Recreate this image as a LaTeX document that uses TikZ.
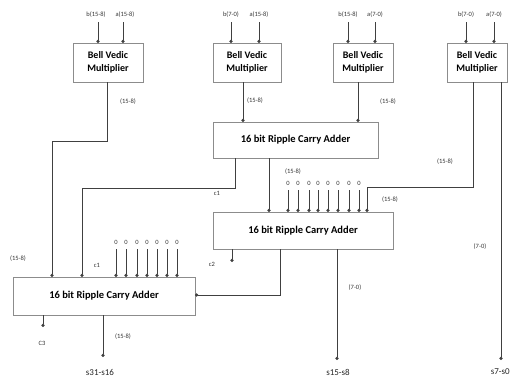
\documentclass[tikz,border=0pt]{standalone}
\usepackage{fontspec}
\setmainfont{Carlito}
\usetikzlibrary{arrows.meta}
\begin{document}
\begin{tikzpicture}[x=1pt,y=-1pt,
  box/.style={draw=black!45,line width=0.8pt,fill=white,inner sep=0pt,font=\fontsize{10}{13}\selectfont\bfseries,align=center},
  abox/.style={box,font=\fontsize{10.5}{13}\selectfont\bfseries},
  conn/.style={draw=black!75,line width=0.9pt,-{Circle[length=3.2pt]}},
  wire/.style={draw=black!75,line width=0.9pt},
  lbl/.style={font=\fontsize{6.5}{7}\selectfont,inner sep=0pt,text=black!80},
  olbl/.style={font=\fontsize{9}{10}\selectfont,inner sep=0pt,text=black!85}]
\useasboundingbox (0,0) rectangle (511,380);
% multipliers
\node[box,minimum width=70pt,minimum height=39pt] (m1) at (108,62.5) {Bell Vedic\\Multiplier};
\node[box,minimum width=68pt,minimum height=39pt] (m2) at (247,62.5) {Bell Vedic\\Multiplier};
\node[box,minimum width=60pt,minimum height=39pt] (m3) at (363,62.5) {Bell Vedic\\Multiplier};
\node[box,minimum width=60pt,minimum height=39pt] (m4) at (477,62.5) {Bell Vedic\\Multiplier};
% adders
\node[abox,minimum width=165pt,minimum height=36pt] (a1) at (295.5,140) {16 bit Ripple Carry Adder};
\node[abox,minimum width=180pt,minimum height=37pt] (a2) at (303,230.5) {16 bit Ripple Carry Adder};
\node[abox,minimum width=182pt,minimum height=38pt] (a3) at (104,296) {16 bit Ripple Carry Adder};
% input labels
\node[lbl] (i1) at (96,15) {b(15-8)};
\node[lbl] (i2) at (125,15) {a(15-8)};
\node[lbl] (i3) at (231,15) {b(7-0)};
\node[lbl] (i4) at (259,15) {a(15-8)};
\node[lbl] (i5) at (348,15) {b(15-8)};
\node[lbl] (i6) at (375,15) {a(7-0)};
\node[lbl] (i7) at (466,15) {b(7-0)};
\node[lbl] (i8) at (494,15) {a(7-0)};
\draw[conn] (98,22) -- (98,43);
\draw[conn] (123,22) -- (123,43);
\draw[conn] (231,22) -- (231,43);
\draw[conn] (259,22) -- (259,43);
\draw[conn] (348,22) -- (348,43);
\draw[conn] (375,22) -- (375,43);
\draw[conn] (466,22) -- (466,43);
\draw[conn] (494,22) -- (494,43);
% multiplier outputs
\draw[conn] (107,82) -- (107,141) -- (52,141) -- (52,277);
\draw[conn] (243,82) -- (243,122);
\draw[conn] (358,82) -- (358,122);
\draw[conn] (473,82) -- (473,187) -- (367,187) -- (367,212);
\coordinate (o3) at (501,360);
\draw[conn] (501,82) -- (o3);
% adder 1 outputs
\draw[conn] (235,158) -- (235,188) -- (82,188) -- (82,277);
\draw[conn] (269,158) -- (269,212);
% zeros into adder 2
\foreach \x in {288,298,309,318,328,338,349,359}{
  \node[lbl] at (\x,183) {0};
  \draw[conn] (\x,190) -- (\x,212);
}
% zeros into adder 3
\foreach \x in {116,126,137,147,157,167,177}{
  \node[lbl] at (\x,242) {0};
  \draw[conn] (\x,249) -- (\x,277);
}
% adder 2 outputs
\draw[conn] (232,249) -- (232,262);
\draw[conn] (280,249) -- (280,295) -- (195,295);
\coordinate (o2) at (337,360);
\draw[conn] (337,249) -- (o2);
% adder 3 outputs
\draw[conn] (43,315) -- (43,327);
\coordinate (o1) at (103,357);
\draw[conn] (103,315) -- (o1);
% bus labels
\node[lbl] at (128,102) {(15-8)};
\node[lbl] at (255,101) {(15-8)};
\node[lbl] at (388,102) {(15-8)};
\node[lbl] at (445,162) {(15-8)};
\node[lbl] at (390,200) {(15-8)};
\node[lbl] at (293,172) {(15-8)};
\node[lbl] at (18,259) {(15-8)};
\node[lbl] at (123,337) {(15-8)};
\node[lbl] at (355,288) {(7-0)};
\node[lbl] at (480,247) {(7-0)};
\node[lbl] at (217,193) {c1};
\node[lbl] at (97,265) {c1};
\node[lbl] at (212,264) {c2};
\node[lbl] at (42,343) {C3};
% outputs
\node[olbl] at (100,372) {s31-s16};
\node[olbl] at (338,372) {s15-s8};
\node[olbl,anchor=east] at (510,372) {s7-s0};
\end{tikzpicture}
\end{document}
